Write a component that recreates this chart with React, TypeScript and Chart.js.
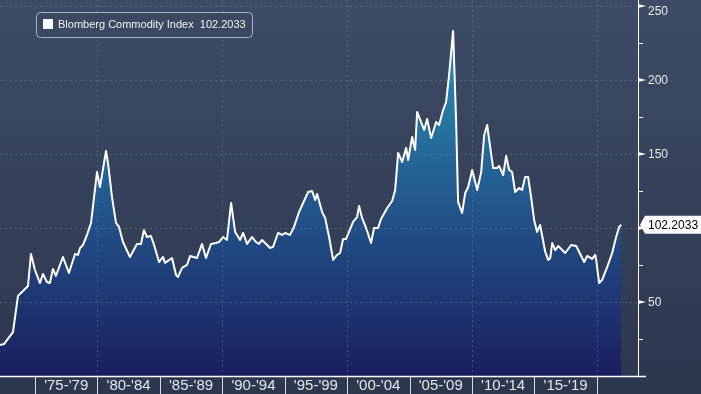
import React, { useEffect, useRef } from 'react';
import { Chart, registerables } from 'chart.js';

Chart.register(...registerables);

// ---- data (decimal years and index values) ----
const years = [
  1972.2, 1972.52, 1973.24, 1973.64, 1973.96, 1974.44, 1974.68, 1975.0, 1975.4, 1975.64,
  1975.96, 1976.2, 1976.44, 1976.68, 1977.24, 1977.72, 1978.21, 1978.45, 1978.61, 1978.85,
  1979.17, 1979.49, 1979.97, 1980.21, 1980.69, 1980.85, 1981.17, 1981.49, 1981.73, 1982.05,
  1982.61, 1983.17, 1983.49, 1983.73, 1983.97, 1984.29, 1984.54, 1984.94, 1985.26, 1985.42,
  1985.98, 1986.3, 1986.46, 1986.78, 1987.18, 1987.42, 1987.98, 1988.38, 1988.7, 1989.1,
  1989.5, 1989.74, 1990.06, 1990.38, 1990.71, 1991.03, 1991.43, 1991.67, 1991.99, 1992.39,
  1992.71, 1992.95, 1993.19, 1993.83, 1994.07, 1994.47, 1994.79, 1995.03, 1995.43, 1995.75,
  1996.15, 1996.88, 1997.2, 1997.44, 1997.6, 1998.0, 1998.24, 1998.56, 1998.88, 1999.2,
  1999.44, 1999.68, 1999.92, 2000.48, 2000.8, 2000.96, 2001.2, 2001.52, 2001.92, 2002.16,
  2002.48, 2002.72, 2003.21, 2003.61, 2003.85, 2004.09, 2004.41, 2004.73, 2004.89, 2005.21,
  2005.45, 2005.61, 2006.17, 2006.41, 2006.73, 2007.13, 2007.37, 2007.69, 2007.93, 2008.17,
  2008.49, 2008.73, 2008.89, 2009.21, 2009.46, 2009.7, 2010.02, 2010.42, 2010.74, 2010.98,
  2011.22, 2011.38, 2011.7, 2012.02, 2012.18, 2012.5, 2012.74, 2012.98, 2013.22, 2013.46,
  2013.78, 2014.02, 2014.26, 2014.5, 2014.74, 2014.98, 2015.22, 2015.46, 2015.87, 2016.11,
  2016.27, 2016.43, 2016.67, 2016.91, 2017.47, 2017.95, 2018.35, 2018.59, 2018.99, 2019.23,
  2019.63, 2019.87, 2019.95, 2020.19, 2020.43, 2020.83, 2021.23, 2021.55, 2021.79, 2021.96,
];
const values = [
  20.9, 21.6, 29.7, 54.1, 56.8, 60.8, 82.4, 71.6, 62.8, 68.9,
  63.5, 62.8, 72.3, 67.6, 80.4, 69.6, 82.4, 81.8, 86.5, 88.5,
  95.3, 103.4, 137.8, 127.7, 152.0, 143.9, 120.9, 103.4, 100.7, 90.5,
  80.4, 89.2, 89.2, 98.6, 93.9, 94.6, 88.5, 77.0, 80.4, 76.4,
  79.7, 68.2, 66.9, 73.0, 75.0, 81.1, 79.7, 89.2, 79.7, 89.2,
  89.9, 90.5, 93.9, 91.9, 116.9, 97.3, 91.9, 96.6, 89.2, 93.9,
  90.5, 89.2, 91.9, 86.5, 87.2, 96.6, 95.3, 96.6, 95.3, 100.7,
  110.8, 124.3, 125.0, 118.9, 123.0, 110.8, 106.8, 93.9, 78.4, 81.8,
  83.1, 92.6, 92.6, 104.1, 107.4, 114.9, 106.8, 100.0, 89.9, 100.0,
  100.0, 106.1, 113.5, 118.2, 125.7, 150.7, 144.6, 154.1, 145.9, 161.5,
  152.7, 178.4, 166.2, 173.6, 160.8, 171.6, 169.6, 179.7, 185.1, 203.4,
  233.1, 173.0, 117.6, 110.1, 123.6, 127.7, 139.2, 125.7, 137.8, 162.8,
  169.6, 159.5, 140.5, 140.5, 141.9, 135.8, 148.6, 139.2, 137.8, 124.3,
  127.0, 125.7, 134.5, 134.5, 120.9, 105.4, 97.3, 102.0, 83.8, 78.4,
  79.7, 89.9, 85.1, 87.8, 83.1, 88.5, 87.8, 83.8, 77.0, 81.1,
  79.1, 81.8, 78.4, 62.8, 64.9, 73.6, 83.1, 93.9, 100.7, 102.2033,
];

const yTicks = [50, 100, 150, 200, 250];
const yMinorTicks = [25, 75, 125, 175, 225];
const periodBounds = [1975, 1980, 1985, 1990, 1995, 2000, 2005, 2010, 2015, 2020];
const periodLabels = ["'75-'79", "'80-'84", "'85-'89", "'90-'94", "'95-'99", "'00-'04", "'05-'09", "'10-'14", "'15-'19"];
const gridYears = [1980, 1990, 2000, 2010, 2020];
const seriesName = 'Blomberg Commodity Index';
const lastValueText = '102.2033';
const lastValue = 102.2033;

const FONT = '"Liberation Sans", Arial, sans-serif';

export default function App() {
  const ref = useRef<HTMLCanvasElement | null>(null);

  useEffect(() => {
    document.body.style.margin = '0';
    const canvas = ref.current;
    if (!canvas) return;

    const decor = {
      id: 'decor',
      beforeDraw(chart: any) {
        const { ctx, width, height } = chart;
        const g = ctx.createLinearGradient(0, 0, 0, height);
        g.addColorStop(0, '#3e4b66');
        g.addColorStop(1, '#2c374e');
        ctx.save();
        ctx.fillStyle = g;
        ctx.fillRect(0, 0, width, height);
        ctx.restore();
      },
      beforeDatasetDraw(chart: any) {
        const { ctx, chartArea: a, scales } = chart;
        const xs = scales.x, ys = scales.y;
        ctx.save();
        ctx.strokeStyle = 'rgba(125,145,175,0.42)';
        ctx.lineWidth = 1;
        ctx.setLineDash([2, 3]);
        yTicks.forEach((v) => {
          const y = Math.round(ys.getPixelForValue(v)) + 0.5;
          ctx.beginPath();
          ctx.moveTo(a.left, y);
          ctx.lineTo(a.right, y);
          ctx.stroke();
        });
        gridYears.forEach((yr) => {
          const x = Math.round(xs.getPixelForValue(yr)) + 0.5;
          ctx.beginPath();
          ctx.moveTo(x, a.top);
          ctx.lineTo(x, a.bottom);
          ctx.stroke();
        });
        ctx.restore();
      },
      afterDraw(chart: any) {
        const { ctx, chartArea: a, scales, width, height } = chart;
        const xs = scales.x, ys = scales.y;
        ctx.save();
        // axes
        ctx.strokeStyle = '#ffffff';
        ctx.fillStyle = '#ffffff';
        ctx.lineWidth = 1.5;
        ctx.beginPath();
        ctx.moveTo(a.left, a.bottom + 0.5);
        ctx.lineTo(a.right + 8, a.bottom + 0.5);
        ctx.stroke();
        ctx.lineWidth = 1;
        ctx.beginPath();
        ctx.moveTo(a.right + 0.5, a.top);
        ctx.lineTo(a.right + 0.5, a.bottom);
        ctx.stroke();
        // major tick arrows
        yTicks.forEach((v) => {
          const y = ys.getPixelForValue(v);
          ctx.beginPath();
          ctx.moveTo(a.right, y - 2);
          ctx.lineTo(a.right + 8, y);
          ctx.lineTo(a.right, y + 2);
          ctx.closePath();
          ctx.fill();
        });
        yMinorTicks.forEach((v) => {
          const y = Math.round(ys.getPixelForValue(v)) + 0.5;
          ctx.beginPath();
          ctx.moveTo(a.right, y);
          ctx.lineTo(a.right + 5, y);
          ctx.stroke();
        });
        // y labels
        ctx.fillStyle = '#e8eaee';
        ctx.font = `12px ${FONT}`;
        ctx.textAlign = 'left';
        ctx.textBaseline = 'middle';
        yTicks.forEach((v) => {
          const y = Math.max(ys.getPixelForValue(v), 11);
          ctx.fillText(String(v), a.right + 10, y + 1);
        });
        // x period separators and labels
        ctx.strokeStyle = '#d8dce4';
        ctx.lineWidth = 1;
        periodBounds.forEach((yr) => {
          const x = Math.round(xs.getPixelForValue(yr)) + 0.5;
          ctx.beginPath();
          ctx.moveTo(x, a.bottom + 1);
          ctx.lineTo(x, height);
          ctx.stroke();
        });
        ctx.fillStyle = '#e3e6ec';
        ctx.font = `15px ${FONT}`;
        ctx.textAlign = 'center';
        periodLabels.forEach((lab, i) => {
          const x0 = xs.getPixelForValue(periodBounds[i]);
          const x1 = xs.getPixelForValue(periodBounds[i + 1]);
          ctx.fillText(lab, (x0 + x1) / 2, a.bottom + 10);
        });
        // last value box
        const yv = ys.getPixelForValue(lastValue);
        ctx.fillStyle = '#ffffff';
        ctx.beginPath();
        ctx.moveTo(a.right + 2, yv);
        ctx.lineTo(a.right + 7, yv - 9);
        ctx.lineTo(width, yv - 9);
        ctx.lineTo(width, yv + 9);
        ctx.lineTo(a.right + 7, yv + 9);
        ctx.closePath();
        ctx.fill();
        ctx.fillStyle = '#000000';
        ctx.font = `12px ${FONT}`;
        ctx.textAlign = 'left';
        ctx.fillText(lastValueText, a.right + 10, yv + 1);
        // legend
        const lx = 36.5, ly = 12.5, lw = 216, lh = 25;
        ctx.fillStyle = '#3b4862';
        ctx.strokeStyle = '#aab3c2';
        ctx.lineWidth = 1;
        ctx.beginPath();
        ctx.roundRect(lx, ly, lw, lh, 4);
        ctx.fill();
        ctx.stroke();
        ctx.fillStyle = '#ffffff';
        ctx.fillRect(43, 19, 10, 10);
        ctx.fillStyle = '#eef0f4';
        ctx.font = `11px ${FONT}`;
        ctx.textAlign = 'left';
        ctx.textBaseline = 'middle';
        ctx.fillText(`${seriesName}  ${lastValueText}`, 58, 25);
        ctx.restore();
      },
    };

    const chart = new Chart(canvas, {
      type: 'line',
      data: {
        datasets: [
          {
            data: years.map((x, i) => ({ x, y: values[i] })),
            borderColor: '#ffffff',
            borderWidth: 2,
            borderJoinStyle: 'round',
            pointRadius: 0,
            tension: 0,
            fill: 'origin',
            backgroundColor: (c: any) => {
              const area = c.chart.chartArea;
              if (!area) return '#22508a';
              const g = c.chart.ctx.createLinearGradient(0, area.top, 0, area.bottom);
              g.addColorStop(0, '#2d90b6');
              g.addColorStop(0.3, '#2677a3');
              g.addColorStop(0.6, '#214f87');
              g.addColorStop(1, '#1b1e5e');
              return g;
            },
          },
        ],
      },
      options: {
        animation: false,
        responsive: false,
        devicePixelRatio: 1,
        layout: { padding: { left: 0, top: 0, right: 63, bottom: 18 } },
        scales: {
          x: { type: 'linear', min: 1972.2, max: 2023.3, display: false },
          y: { min: 0, max: 254, display: false },
        },
        plugins: {
          legend: { display: false },
          tooltip: { enabled: false },
          filler: { drawTime: 'beforeDatasetsDraw' },
        },
      } as any,
      plugins: [decor],
    });

    return () => chart.destroy();
  }, []);

  return <canvas ref={ref} width={701} height={394} style={{ display: 'block' }} />;
}
